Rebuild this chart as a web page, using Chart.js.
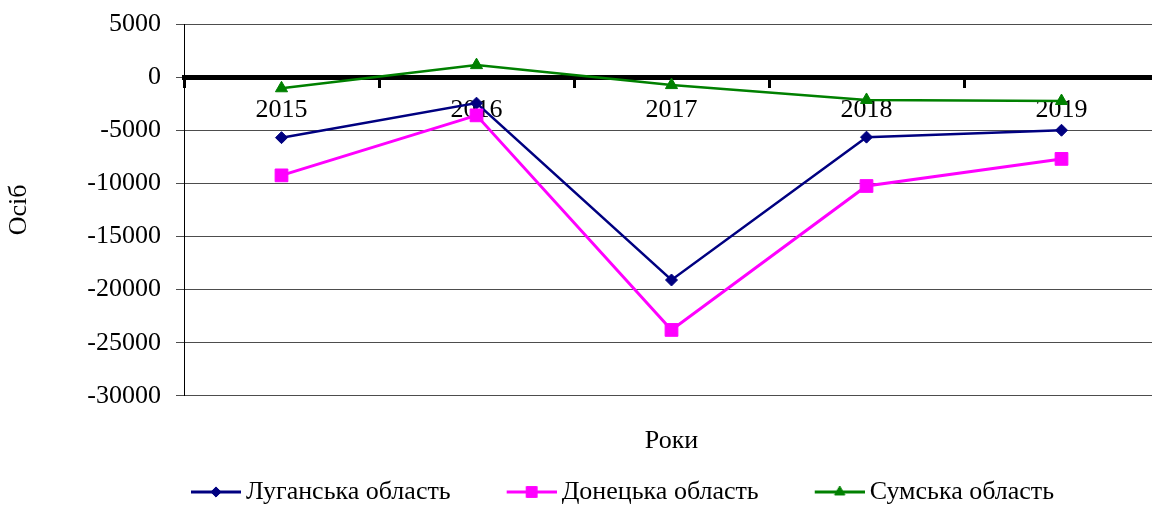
<!DOCTYPE html>
<html>
<head>
<meta charset="utf-8">
<script src="https://cdn.jsdelivr.net/npm/chart.js@4/dist/chart.umd.min.js"></script>
<style>
  html, body { margin: 0; padding: 0; background: #fff; overflow: hidden; }
  #wrap { width: 1169px; height: 505px; }
</style>
</head>
<body>
<div id="wrap"><canvas id="chart"></canvas></div>
<script>
const years = ['2015', '2016', '2017', '2018', '2019'];
const seriesNames = ['Луганська область', 'Донецька область', 'Сумська область'];
const luhansk = [-5700, -2450, -19100, -5650, -5000];
const donetsk = [-9250, -3600, -23800, -10250, -7700];
const sumy = [-1050, 1130, -750, -2150, -2250];
const yMin = -30000;
const yMax = 5000;
const yStep = 5000;

const colors = ['#000080', '#FF00FF', '#008000'];
const markers = ['rectRot', 'rect', 'triangle'];
const markerSize = [6, 9, 7];
const lineWidths = [2.5, 3, 2.5];

Chart.defaults.font.family = "'Liberation Serif', 'Times New Roman', serif";
Chart.defaults.font.size = 26;
Chart.defaults.color = '#000';

// legend icon: short line with the series marker on it
function legendIcon(i) {
    const c = document.createElement('canvas');
    c.width = 106;
    c.height = 20;
    const ctx = c.getContext('2d');
    ctx.strokeStyle = colors[i];
    ctx.lineWidth = 3;
    ctx.beginPath();
    ctx.moveTo(56, 10);
    ctx.lineTo(106, 10);
    ctx.stroke();
    ctx.fillStyle = colors[i];
    ctx.lineWidth = 1;
    Chart.helpers.drawPoint(ctx, {pointStyle: markers[i], radius: markerSize[i] * 0.85, rotation: 0, borderWidth: 1}, 81, 10);
    return c;
}
const icons = [0, 1, 2].map(legendIcon);

const legendShift = {
    id: 'legendShift',
    afterLayout(chart) {
        const lg = chart.legend;
        lg.left += 135; lg.right += 135;
        lg.top += 10; lg.bottom += 10;
    }
};

const data = [luhansk, donetsk, sumy];

new Chart(document.getElementById('chart'), {
    type: 'line',
    data: {
        labels: years,
        datasets: data.map((d, i) => ({
            label: seriesNames[i],
            data: d,
            borderColor: colors[i],
            backgroundColor: colors[i],
            borderWidth: lineWidths[i],
            pointStyle: markers[i],
            pointRadius: markerSize[i],
            pointBorderWidth: 1,
            tension: 0,
            order: 3 - i
        }))
    },
    options: {
        responsive: true,
        maintainAspectRatio: false,
        animation: false,
        layout: { padding: { top: 24, right: 0, bottom: 0, left: 0 } },
        scales: {
            x: {
                type: 'category',
                position: { y: 0 },
                offset: true,
                grid: { display: true, drawOnChartArea: false, offset: true, color: '#000', lineWidth: 3, tickLength: 8 },
                border: { display: true, color: '#000', width: 5 },
                ticks: { padding: 9, maxRotation: 0, autoSkip: false },
                afterFit(scale) { scale.height = 0; }
            },
            x2: {
                type: 'category',
                position: 'bottom',
                labels: years,
                grid: { display: false },
                border: { display: false },
                ticks: { display: false },
                title: { display: true, text: 'Роки', padding: { top: 22, bottom: 4 } }
            },
            y: {
                min: yMin,
                max: yMax,
                ticks: { stepSize: yStep, padding: 15, callback: v => String(v) },
                grid: { color: '#4d4d4d', lineWidth: 1, tickLength: 8 },
                border: { display: true, color: '#000', width: 1 },
                title: { display: true, text: 'Осіб', padding: { top: 4, bottom: 0 } },
                afterFit(scale) {
                    scale.width = 184;
                    scale.paddingTop = 0;
                    scale.paddingBottom = 0;
                }
            }
        },
        plugins: {
            tooltip: { enabled: false },
            legend: {
                position: 'bottom',
                align: 'start',
                labels: {
                    usePointStyle: true,
                    pointStyleWidth: 90,
                    boxHeight: 20,
                    padding: 8,
                    color: '#000',
                    generateLabels: chart => chart.data.datasets.map((ds, i) => ({
                        text: ds.label,
                        pointStyle: icons[i],
                        fillStyle: colors[i],
                        strokeStyle: colors[i],
                        lineWidth: 0,
                        hidden: false,
                        datasetIndex: i,
                        fontColor: '#000'
                    }))
                }
            }
        }
    },
    plugins: [legendShift]
});
</script>
</body>
</html>
